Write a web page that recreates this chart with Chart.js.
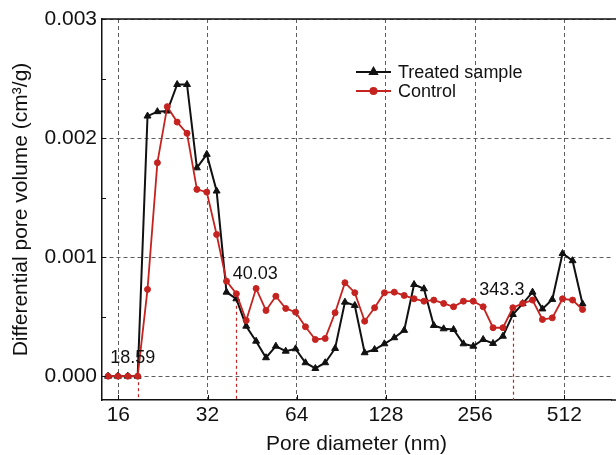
<!DOCTYPE html>
<html>
<head>
<meta charset="utf-8">
<script src="https://cdn.jsdelivr.net/npm/chart.js@4.4.1/dist/chart.umd.min.js"></script>
<style>
  html, body { margin: 0; padding: 0; background: #fff; overflow: hidden; }
  #wrap { width: 616px; height: 455px; }
</style>
</head>
<body>
<div id="wrap"><canvas id="poreChart" width="616" height="455"></canvas></div>
<script>
// pore size distribution, log-spaced bins (nm)
const poreDiameter = [14.77, 15.94, 17.22, 18.59, 20.07, 21.67, 23.40, 25.27, 27.28, 29.46,
    31.81, 34.34, 37.08, 40.03, 43.22, 46.67, 50.39, 54.41, 58.75, 63.43,
    68.49, 73.95, 79.85, 86.22, 93.09, 100.5, 108.5, 117.2, 126.5, 136.6,
    147.5, 159.3, 172.0, 185.7, 200.5, 216.5, 233.8, 252.4, 272.5, 294.3,
    317.8, 343.3, 370.5, 400.0, 431.9, 466.4, 505.0, 546.0, 590.0];

const treatedVolume = [0, 0, 0, 0, 0.002185, 0.002222, 0.002227, 0.00245, 0.00245, 0.00175,
    0.001863, 0.001555, 0.000706, 0.00065, 0.00042, 0.000294, 0.000155, 0.000252, 0.00021, 0.00023,
    0.000113, 0.000065, 0.000113, 0.000233, 0.000622, 0.000594, 0.000197, 0.000224, 0.000272, 0.000323,
    0.000385, 0.00077, 0.000734, 0.000426, 0.000398, 0.000392, 0.000272, 0.000252, 0.000308, 0.000275,
    0.000336, 0.000518, 0.00061, 0.000706, 0.000565, 0.000645, 0.00103, 0.00097, 0.000607];

const controlVolume = [0, 0, 0, 0, 0.000729, 0.001793, 0.002264, 0.002134, 0.00204, 0.001569,
    0.001546, 0.00119, 0.000798, 0.000692, 0.000468, 0.000737, 0.000552, 0.000672, 0.000569, 0.000538,
    0.000415, 0.000308, 0.000317, 0.000533, 0.000785, 0.000701, 0.000462, 0.000575, 0.000701, 0.000706,
    0.000678, 0.00065, 0.00063, 0.000639, 0.000611, 0.000583, 0.00063, 0.00063, 0.000583, 0.000407,
    0.000407, 0.000575, 0.000611, 0.000639, 0.000476, 0.00049, 0.00065, 0.000639, 0.00056];

const xTicks = [16, 32, 64, 128, 256, 512];
const yTicks = [0, 0.001, 0.002, 0.003];
const yMinorTicks = [0.0005, 0.0015, 0.0025];
const markedDiameters = [18.59, 40.03, 343.3];

const BLACK = '#111111';
const RED = '#c4231f';
const GRID = '#5e5e5e';
const FONT = "'Liberation Sans', Arial, sans-serif";

// where each marker label sits relative to its point
const labelOffsets = [[-5, -18], [19, -20], [-11, -18]];

const extras = {
    id: 'extras',
    beforeDatasetsDraw(chart) {
        const { ctx, chartArea: a, scales: { x, y } } = chart;
        ctx.save();
        ctx.strokeStyle = RED;
        ctx.lineWidth = 1.2;
        ctx.setLineDash([3, 3]);
        markedDiameters.forEach(d => {
            const i = poreDiameter.indexOf(d);
            const px = Math.round(x.getPixelForValue(d)) + 0.5;
            ctx.beginPath();
            ctx.moveTo(px, y.getPixelForValue(controlVolume[i]));
            ctx.lineTo(px, a.bottom);
            ctx.stroke();
        });
        ctx.restore();
    },
    afterDatasetsDraw(chart) {
        const { ctx, chartArea: a, scales: { x, y } } = chart;
        ctx.save();
        // frame top + inner ticks
        ctx.strokeStyle = BLACK;
        ctx.lineWidth = 1.5;
        ctx.beginPath();
        ctx.moveTo(a.left, a.top);
        ctx.lineTo(chart.width, a.top);
        ctx.stroke();
        ctx.beginPath();
        ctx.moveTo(a.right, a.bottom);
        ctx.lineTo(chart.width, a.bottom);
        ctx.stroke();
        ctx.lineWidth = 1;
        xTicks.forEach(v => {
            const px = Math.round(x.getPixelForValue(v)) + 0.5;
            ctx.beginPath();
            ctx.moveTo(px, a.bottom);
            ctx.lineTo(px, a.bottom - 5);
            ctx.stroke();
        });
        yTicks.concat(yMinorTicks).forEach(v => {
            const py = Math.round(y.getPixelForValue(v)) + 0.5;
            ctx.beginPath();
            ctx.moveTo(a.left, py);
            ctx.lineTo(a.left + 4, py);
            ctx.stroke();
        });

        // value labels
        ctx.fillStyle = BLACK;
        ctx.font = '18px ' + FONT;
        ctx.textAlign = 'center';
        ctx.textBaseline = 'middle';
        markedDiameters.forEach((d, k) => {
            const i = poreDiameter.indexOf(d);
            const px = x.getPixelForValue(d);
            const py = y.getPixelForValue(controlVolume[i]);
            ctx.fillText(String(d), px + labelOffsets[k][0], py + labelOffsets[k][1]);
        });

        // legend
        const items = [
            { text: 'Treated sample', color: BLACK, style: 'triangle' },
            { text: 'Control', color: RED, style: 'circle' }
        ];
        const lx = 356, ly = 72;
        items.forEach((it, k) => {
            const yy = ly + k * 19;
            ctx.strokeStyle = it.color;
            ctx.fillStyle = it.color;
            ctx.lineWidth = 2;
            ctx.beginPath();
            ctx.moveTo(lx, yy);
            ctx.lineTo(lx + 35, yy);
            ctx.stroke();
            Chart.helpers.drawPoint(ctx, { pointStyle: it.style, radius: it.style === 'triangle' ? 4 : 3, borderWidth: 1 }, lx + 17.5, yy);
            ctx.fillStyle = BLACK;
            ctx.textAlign = 'left';
            ctx.font = '18px ' + FONT;
            ctx.fillText(it.text, lx + 42, yy + 1);
        });
        ctx.restore();
    }
};

new Chart(document.getElementById('poreChart'), {
    type: 'line',
    data: {
        datasets: [
            {
                label: 'Treated sample',
                data: poreDiameter.map((d, i) => ({ x: d, y: treatedVolume[i] })),
                borderColor: BLACK,
                backgroundColor: BLACK,
                borderWidth: 2,
                pointStyle: 'triangle',
                pointRadius: 4,
                pointBorderWidth: 1,
                tension: 0,
                order: 1
            },
            {
                label: 'Control',
                data: poreDiameter.map((d, i) => ({ x: d, y: controlVolume[i] })),
                borderColor: RED,
                backgroundColor: RED,
                borderWidth: 1.8,
                pointStyle: 'circle',
                pointRadius: 3,
                pointBorderWidth: 1,
                tension: 0,
                order: 0
            }
        ]
    },
    options: {
        responsive: false,
        animation: false,
        layout: { padding: { top: 19, right: 2, left: 0, bottom: 0 } },
        plugins: { legend: { display: false }, tooltip: { enabled: false } },
        scales: {
            x: {
                type: 'logarithmic',
                min: 14.09,
                max: 736,
                afterBuildTicks: s => { s.ticks = xTicks.map(v => ({ value: v })); },
                afterFit: s => { s.height = 55; },
                ticks: {
                    callback: v => String(v),
                    color: BLACK,
                    font: { family: FONT, size: 21 },
                    padding: 3,
                    autoSkip: false,
                    maxRotation: 0
                },
                grid: { color: GRID, lineWidth: 1, drawTicks: false },
                border: { display: true, color: BLACK, width: 1.5, dash: [4, 3] },
                title: {
                    display: true,
                    text: 'Pore diameter (nm)',
                    color: BLACK,
                    font: { family: FONT, size: 21, lineHeight: 1 },
                    padding: { top: 0, bottom: 0 }
                }
            },
            y: {
                type: 'linear',
                min: -0.0002,
                max: 0.003,
                afterBuildTicks: s => { s.ticks = yTicks.map(v => ({ value: v })); },
                afterFit: s => { s.width = 102; },
                ticks: {
                    callback: v => v.toFixed(3),
                    color: BLACK,
                    font: { family: FONT, size: 21 },
                    padding: 5
                },
                grid: { color: GRID, lineWidth: 1, drawTicks: false },
                border: { display: true, color: BLACK, width: 1.5, dash: [4, 3] },
                title: {
                    display: true,
                    text: 'Differential pore volume (cm³/g)',
                    color: BLACK,
                    font: { family: FONT, size: 21 },
                    padding: { top: 9, bottom: 0 }
                }
            }
        }
    },
    plugins: [extras]
});
</script>
</body>
</html>
